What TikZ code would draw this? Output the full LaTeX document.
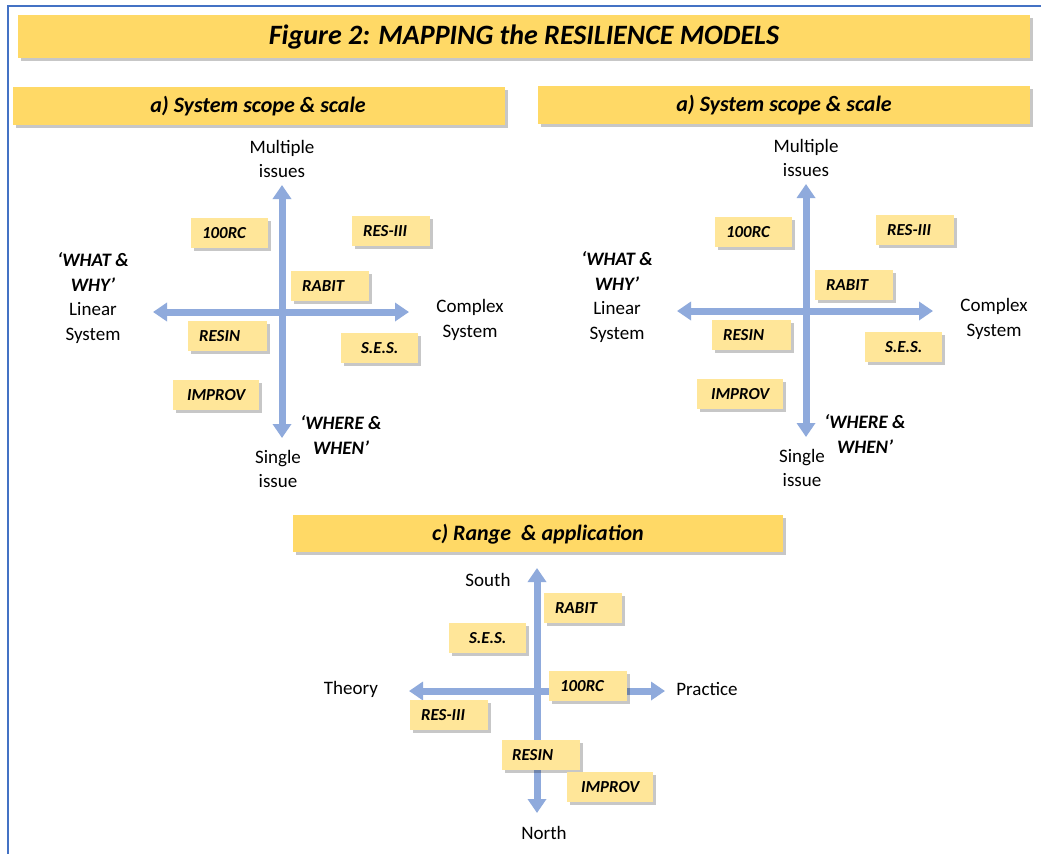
\documentclass[tikz,border=0pt]{standalone}
\usepackage{fontspec}
\setmainfont{Carlito}
\usetikzlibrary{arrows.meta,shadows}
\definecolor{bannergold}{HTML}{FFD966}
\definecolor{noteyellow}{HTML}{FFE699}
\definecolor{axisblue}{HTML}{8FAADC}
\definecolor{frameblue}{HTML}{4472C4}
\tikzset{
  myshadow/.style={drop shadow={shadow xshift=2.5pt,shadow yshift=-2.5pt,fill=black,opacity=0.22}},
  banner/.style={fill=bannergold,myshadow,draw=none},
  bannertext/.style={font=\fontsize{22}{26}\selectfont\bfseries\itshape,inner sep=0pt},
  titletext/.style={font=\fontsize{28}{32}\selectfont\bfseries\itshape,inner sep=0pt},
  notebox/.style={fill=noteyellow,myshadow,anchor=north west,minimum height=30pt,inner ysep=0pt,
    inner xsep=11pt,text width=56pt,align=left,font=\fontsize{16.8}{18}\selectfont\bfseries\itshape},
  notec/.style={notebox,align=center,inner xsep=8pt,text width=61pt},
  notew/.style={notebox,align=center,inner xsep=8pt,text width=70pt},
  axislabel/.style={align=center,inner sep=0pt,font=\fontsize{19}{24.5}\selectfont},
  axis/.style={draw=axisblue,line width=7pt,{Triangle[width=18pt,length=14pt]}-{Triangle[width=18pt,length=14pt]}},
}
\newcommand\sysquad[2]{%
\begin{scope}[shift={#2}]
  \coordinate (#1-top) at (282,185);
  \coordinate (#1-bot) at (282,438);
  \coordinate (#1-lft) at (153,312);
  \coordinate (#1-rgt) at (409,312);
  \draw[axis] (#1-bot) -- (#1-top);
  \draw[axis] (#1-lft) -- (#1-rgt);
  \node[axislabel] (#1-multi) at (282,159) {Multiple\\issues};
  \node[axislabel] (#1-linear) at (93,298) {\textbf{\textit{‘WHAT \&}}\\\textbf{\textit{WHY’}}\\Linear\\System};
  \node[axislabel] (#1-complex) at (470,320) {Complex\\System};
  \node[axislabel] (#1-single) at (278,469) {Single\\issue};
  \node[axislabel,font=\fontsize{19}{24.5}\selectfont\bfseries\itshape] (#1-where) at (341,435) {‘WHERE \&\\WHEN’};
  \node[notebox,minimum width=77pt,text width=55pt] (#1-100rc) at (191,218) {100RC};
  \node[notebox] (#1-res) at (352,216) {RES-III};
  \node[notebox] (#1-rabit) at (291,271) {RABIT};
  \node[notebox,text width=57pt] (#1-resin) at (188,321) {RESIN};
  \node[notec] (#1-ses) at (341,333) {S.E.S.};
  \node[notew] (#1-improv) at (173,380) {IMPROV};
\end{scope}}
\begin{document}
\begin{tikzpicture}[x=1pt,y=-1pt]
\useasboundingbox (0,0) rectangle (1041,854);
\fill[white] (0,0) rectangle (1041,854);
% frame
\coordinate (fr-tr) at (1041,6);
\coordinate (fr-tl) at (8,6);
\coordinate (fr-bl) at (8,854);
\draw[frameblue,line width=2pt] (fr-tr) -- (fr-tl) -- (fr-bl);
% banners
\path[banner] (18,15) rectangle (1030,58);
\node[titletext] (title) at (524,37) {Figure 2: MAPPING the RESILIENCE MODELS};
\path[banner] (13,87) rectangle (505,125);
\node[bannertext] (suba) at (258,106) {a) System scope \& scale};
\path[banner] (538,86) rectangle (1030,124);
\node[bannertext] (subb) at (784,105) {a) System scope \& scale};
\path[banner] (293,515) rectangle (783,552);
\node[bannertext] (subc) at (538,534) {c) Range\ \ \& application};
% quadrants a
\sysquad{qa}{(0,0)}
\sysquad{qb}{(524,-1)}
% quadrant c
\coordinate (qc-top) at (537,568);
\coordinate (qc-bot) at (537,813);
\coordinate (qc-lft) at (409,691);
\coordinate (qc-rgt) at (665,691);
\draw[axis] (qc-bot) -- (qc-top);
\draw[axis] (qc-lft) -- (qc-rgt);
\node[axislabel] (south) at (488,580) {South};
\node[axislabel] (north) at (544,833) {North};
\node[axislabel] (theory) at (351,689) {Theory};
\node[axislabel] (practice) at (707,689) {Practice};
\node[notebox] (qc-rabit) at (544,593) {RABIT};
\node[notec] (qc-ses) at (449,623) {S.E.S.};
\node[notebox] (qc-100rc) at (549,671) {100RC};
\node[notebox] (qc-res) at (410,700) {RES-III};
\node[notebox,inner xsep=10pt,text width=58pt] (qc-resin) at (502,740) {RESIN};
\node[notew] (qc-improv) at (567,772) {IMPROV};
\end{tikzpicture}
\end{document}
